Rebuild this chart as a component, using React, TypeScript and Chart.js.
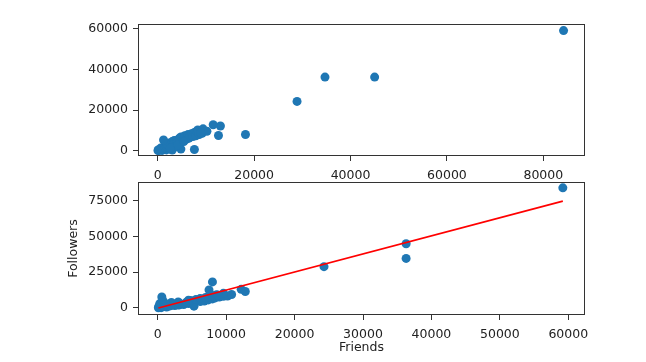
import React, { useEffect, useRef } from "react";
import { Chart, registerables } from "chart.js";

Chart.register(...registerables);

// Each account: number of friends and number of followers
const friends = [
  100, 250, 500, 150, 700, 400, 300, 800, 600, 1000, 1300, 2500, 1000, 3200, 1800, 3800, 2000, 4500,
  2600, 5000, 3000, 5200, 3200, 6200, 5300, 4200, 6800, 4800, 7400, 5600, 8000, 6200, 8400, 7000,
  9000, 7400, 9600, 8000, 10200, 8600, 10800, 9600, 8800, 7500, 8000, 12200, 12800, 24300, 36300,
  36300, 59200, 2000, 1200, 3000, 4500,
];
const followers = [
  50, 300, 150, 900, 700, 1800, 3000, 4800, 7600, 1200, 600, 1600, 900, 2200, 1400, 2400, 1800, 3000,
  2500, 3400, 2000, 3900, 3300, 4500, 1200, 4000, 4800, 5200, 5600, 5900, 6300, 6500, 7000, 7300,
  7600, 7900, 8100, 8600, 8300, 9200, 9400, 10200, 8900, 12600, 18200, 13000, 11500, 28900, 34700,
  45000, 84200, 3800, 2600, 4200, 5400,
];

// Regression line end points (Friends -> Followers)
const fitFriends = [100, 59200];
const fitFollowers = [-100, 74900];

// Tick values
const topXTicks = [0, 20000, 40000, 60000, 80000];
const topYTicks = [0, 20000, 40000, 60000];
const bottomXTicks = [0, 10000, 20000, 30000, 40000, 50000, 60000];
const bottomYTicks = [0, 25000, 50000, 75000];

const BLUE = "#1f77b4";
const RED = "#ff0000";
const INK = "#222222";
const SPINE = "#333333";
const FONT = { family: "'DejaVu Sans', sans-serif", size: 12.5 };

const frame = {
  id: "frame",
  afterDatasetsDraw(chart: any) {
    const { ctx, chartArea } = chart;
    ctx.save();
    ctx.strokeStyle = SPINE;
    ctx.lineWidth = 1;
    const l = Math.round(chartArea.left) + 0.5;
    const t = Math.round(chartArea.top) + 0.5;
    const r = Math.round(chartArea.right) - 0.5;
    const b = Math.round(chartArea.bottom) - 0.5;
    ctx.strokeRect(l, t, r - l, b - t);
    ctx.restore();
  },
};

function axis(
  ticks: number[],
  min: number,
  max: number,
  fit: { width?: number; height?: number },
  labelPad: number,
  title?: any
) {
  return {
    type: "linear",
    min,
    max,
    afterBuildTicks: (scale: any) => {
      scale.ticks = ticks.map((v) => ({ value: v }));
    },
    afterFit: (scale: any) => {
      if (fit.width !== undefined) scale.width = fit.width;
      if (fit.height !== undefined) scale.height = fit.height;
      scale.paddingTop = 0;
      scale.paddingBottom = 0;
      scale.paddingLeft = 0;
      scale.paddingRight = 0;
    },
    grid: {
      display: true,
      drawOnChartArea: false,
      drawTicks: true,
      tickLength: 5,
      color: SPINE,
      lineWidth: 1,
    },
    border: { display: false },
    ticks: {
      color: INK,
      font: FONT,
      padding: labelPad,
      maxRotation: 0,
      autoSkip: false,
      callback: (v: any) => String(v),
    },
    title: title || { display: false },
  };
}

function useChart(ref: React.RefObject<HTMLCanvasElement>, build: () => any) {
  useEffect(() => {
    if (!ref.current) return;
    const chart = new Chart(ref.current, build());
    return () => chart.destroy();
  }, []);
}

export default function App() {
  const topRef = useRef<HTMLCanvasElement>(null);
  const bottomRef = useRef<HTMLCanvasElement>(null);

  useChart(topRef, () => ({
    type: "scatter",
    data: {
      datasets: [
        {
          data: followers.map((f, i) => ({ x: f, y: friends[i] })),
          backgroundColor: BLUE,
          borderWidth: 0,
          pointRadius: 4.5,
        },
      ],
    },
    options: {
      responsive: false,
      animation: false,
      devicePixelRatio: 1,
      layout: { autoPadding: false, padding: { left: 0, right: 61, top: 24, bottom: 0 } },
      plugins: { legend: { display: false }, tooltip: { enabled: false } },
      scales: {
        x: { ...axis(topXTicks, -4100, 88650, { height: 25 }, 7), position: "bottom" },
        y: { ...axis(topYTicks, -2600, 62450, { width: 138 }, 5), position: "left" },
      },
    },
    plugins: [frame],
  }));

  useChart(bottomRef, () => ({
    type: "scatter",
    data: {
      datasets: [
        {
          data: fitFriends.map((f, i) => ({ x: f, y: fitFollowers[i] })),
          showLine: true,
          borderColor: RED,
          borderWidth: 1.6,
          pointRadius: 0,
          fill: false,
          order: 0,
        },
        {
          data: friends.map((f, i) => ({ x: f, y: followers[i] })),
          backgroundColor: BLUE,
          borderWidth: 0,
          pointRadius: 4.5,
          order: 1,
        },
      ],
    },
    options: {
      responsive: false,
      animation: false,
      devicePixelRatio: 1,
      layout: { autoPadding: false, padding: { left: 0, right: 61, top: 1, bottom: 0 } },
      plugins: { legend: { display: false }, tooltip: { enabled: false } },
      scales: {
        x: {
          ...axis(bottomXTicks, -2880, 62440, { height: 47 }, 7, {
            display: true,
            text: "Friends",
            color: INK,
            font: FONT,
            padding: { top: 0, bottom: 7 },
          }),
          position: "bottom",
        },
        y: {
          ...axis(bottomYTicks, -5000, 88300, { width: 138 }, 5, {
            display: true,
            text: "Followers",
            color: INK,
            font: FONT,
            padding: { top: 66.5, bottom: 0 },
          }),
          position: "left",
        },
      },
    },
    plugins: [frame],
  }));

  return (
    <div
      style={{
        position: "fixed",
        left: 0,
        top: 0,
        width: 646,
        height: 362,
        background: "#ffffff",
      }}
    >
      <canvas
        ref={topRef}
        width={646}
        height={181}
        style={{ position: "absolute", left: 0, top: 0, width: 646, height: 181 }}
      />
      <canvas
        ref={bottomRef}
        width={646}
        height={181}
        style={{ position: "absolute", left: 0, top: 181, width: 646, height: 181 }}
      />
    </div>
  );
}
